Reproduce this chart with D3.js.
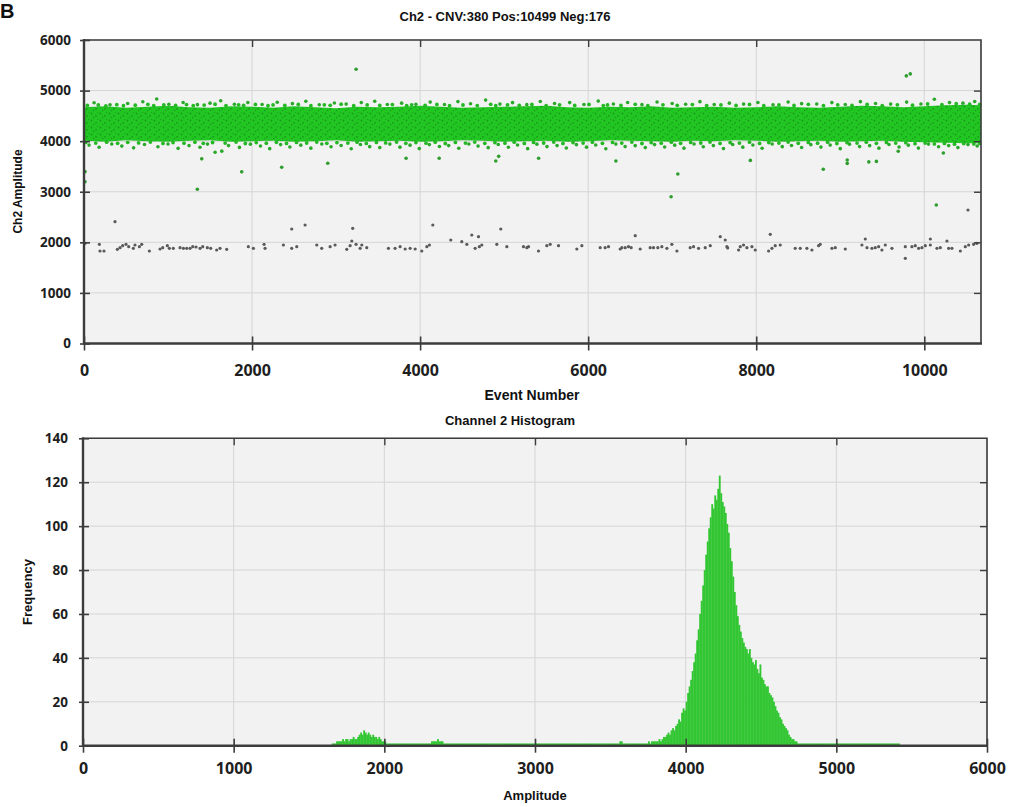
<!DOCTYPE html>
<html>
<head>
<meta charset="utf-8">
<script src="https://cdn.jsdelivr.net/npm/d3@7"></script>
<style>
  body { margin: 0; background: #fff; }
  svg { display: block; }
  .tick text { font-family: "Open Sans", "Noto Sans", sans-serif; font-weight: 700; fill: #1e1e1e; }
  .ttl { font-family: "Liberation Sans Narrow", "Liberation Sans", Arial, sans-serif; font-weight: bold; fill: #111; }
</style>
</head>
<body>
<svg id="chart" width="1014" height="807"></svg>
<script>
// ---------- Ch2 amplitude vs event number ----------
const positiveCount = 10499;
const negativeCount = 176;
const totalEvents = positiveCount + negativeCount;

const eventTicks = [0, 2000, 4000, 6000, 8000, 10000];
const amplitudeTicks = [0, 1000, 2000, 3000, 4000, 5000, 6000];

// dense positive-droplet band: solid core edges sampled along the run
const bandEvents = [0, 250, 500, 750, 1000, 1250, 1500, 1750, 2000, 2250,
  2500, 2750, 3000, 3250, 3500, 3750, 4000, 4250, 4500, 4750,
  5000, 5250, 5500, 5750, 6000, 6250, 6500, 6750, 7000, 7250,
  7500, 7750, 8000, 8250, 8500, 8750, 9000, 9250, 9500, 9750,
  10000, 10250, 10500, 10675];
const bandHigh = [4670, 4690, 4660, 4680, 4700, 4670, 4660, 4690, 4680, 4660,
  4690, 4670, 4650, 4680, 4670, 4680, 4700, 4680, 4660, 4670,
  4680, 4690, 4700, 4670, 4660, 4680, 4670, 4690, 4660, 4670,
  4680, 4660, 4670, 4690, 4670, 4660, 4680, 4700, 4690, 4670,
  4690, 4710, 4720, 4710];
const bandLow = [4010, 3990, 4020, 4000, 3990, 4010, 4020, 3990, 4000, 4010,
  3990, 4000, 4020, 3990, 4000, 4010, 3990, 4000, 4020, 4010,
  3990, 4000, 4010, 3990, 4000, 4020, 4010, 4000, 3990, 4010,
  4000, 4020, 4010, 3990, 4000, 4010, 3990, 4000, 4010, 3990,
  3980, 3970, 3960, 3960];

// droplets hugging the band edges [event, amplitude]
const edgeUpper = [[40,4705],[170,4715],[260,4698],[390,4722],[470,4702],[610,4712],[760,4728],[830,4700],[950,4718],[1090,4706],
  [1220,4724],[1300,4701],[1430,4714],[1560,4730],[1690,4703],[1840,4719],[1900,4708],[2040,4726],[2190,4700],[2250,4716],
  [2390,4705],[2550,4727],[2700,4702],[2860,4718],[2930,4709],[3060,4731],[3210,4700],[3370,4717],[3520,4706],[3670,4724],
  [3840,4703],[3900,4719],[4060,4708],[4200,4726],[4350,4702],[4510,4715],[4680,4704],[4840,4728],[4900,4702],[5040,4717],
  [5180,4707],[5330,4725],[5500,4701],[5660,4718],[5840,4706],[6010,4727],[6180,4703],[6230,4716],[6390,4705],[6560,4729],
  [6710,4701],[6890,4719],[7060,4708],[7240,4724],[7410,4703],[7580,4717],[7760,4705],[7920,4726],[8090,4702],[8270,4716],
  [8450,4707],[8620,4729],[8800,4702],[8970,4718],[9140,4706],[9320,4725],[9500,4703],[9680,4719],[9860,4712],[10040,4735],
  [10210,4722],[10380,4740],[10540,4732],[10660,4728]];
const edgeLower = [[20,3975],[140,3962],[270,3981],[400,3958],[520,3977],[650,3966],[790,3984],[940,3955],[1060,3972],[1190,3961],
  [1320,3980],[1420,3957],[1530,3974],[1680,3963],[1810,3982],[1920,3954],[2050,3973],[2170,3960],[2290,3979],[2410,3956],
  [2530,3976],[2650,3964],[2770,3983],[2890,3957],[3010,3972],[3140,3962],[3250,3980],[3360,3955],[3480,3975],[3590,3965],
  [3720,3984],[3830,3958],[3950,3973],[4070,3961],[4180,3981],[4300,3954],[4420,3976],[4540,3963],[4650,3982],[4770,3957],
  [4890,3972],[5010,3960],[5120,3980],[5240,3956],[5350,3975],[5470,3964],[5590,3983],[5700,3955],[5820,3974],[5940,3962],
  [6050,3981],[6170,3957],[6290,3976],[6400,3963],[6520,3982],[6640,3954],[6750,3973],[6870,3961],[6990,3980],[7100,3958],
  [7220,3975],[7340,3964],[7450,3983],[7570,3956],[7690,3972],[7800,3962],[7920,3981],[8040,3955],[8150,3974],[8270,3963],
  [8380,3982],[8500,3957],[8620,3976],[8730,3960],[8850,3980],[8960,3954],[9080,3973],[9200,3962],[9310,3981],[9430,3958],
  [9550,3975],[9660,3963],[9780,3970],[9890,3950],[10010,3962],[10120,3945],[10240,3955],[10360,3940],[10470,3952],[10590,3945],
  [10660,3955]];

// loose positive droplets around the band [event, amplitude]
const fringeUpper = [[120,4760],[310,4720],[520,4745],[700,4780],[865,4834],[1010,4730],[1180,4765],[1350,4722],[1500,4752],[1627,4800],
  [1790,4730],[1950,4762],[2120,4725],[2300,4770],[2480,4742],[2640,4790],[2800,4720],[2980,4755],[3120,4733],[3300,4762],
  [3460,4790],[3610,4724],[3780,4752],[3950,4731],[4120,4772],[4290,4726],[4450,4782],[4600,4741],[4780,4812],[4950,4733],
  [5100,4761],[5270,4722],[5430,4783],[5600,4744],[5780,4762],[5950,4725],[6120,4792],[6300,4734],[6470,4763],[6640,4722],
  [6820,4774],[7000,4745],[7160,4731],[7330,4781],[7500,4724],[7680,4752],[7850,4733],[8020,4764],[8200,4721],[8380,4773],
  [8540,4742],[8720,4735],[8900,4762],[9060,4726],[9240,4781],[9420,4744],[9600,4733],[9790,4772],[9960,4735],[10120,4830],
  [10300,4762],[10460,4752],[10600,4784]];
const fringeLower = [[60,3922],[180,3881],[330,3944],[450,3902],[590,3868],[720,3933],[880,3889],[1000,3945],[1120,3858],[1250,3912],
  [1380,3879],[1470,3942],[1560,3781],[1640,3803],[1720,3912],[1850,3877],[1980,3941],[2100,3903],[2210,3852],[2340,3932],
  [2450,3884],[2580,3921],[2700,3862],[2830,3943],[2940,3891],[3060,3913],[3180,3851],[3290,3934],[3400,3892],[3520,3873],
  [3640,3942],[3760,3882],[3880,3921],[3990,3853],[4110,3932],[4230,3894],[4340,3912],[4460,3861],[4580,3943],[4690,3902],
  [4810,3872],[4930,3934],[5050,3881],[5160,3923],[5280,3852],[5390,3941],[5510,3893],[5630,3912],[5740,3864],[5860,3931],
  [5980,3882],[6090,3924],[6210,3851],[6330,3942],[6440,3893],[6560,3911],[6680,3873],[6790,3932],[6910,3884],[7030,3921],
  [7140,3862],[7260,3943],[7370,3891],[7490,3912],[7610,3853],[7720,3934],[7840,3882],[7960,3923],[8070,3861],[8190,3944],
  [8310,3892],[8420,3913],[8540,3874],[8650,3931],[8770,3883],[8880,3922],[9000,3852],[9110,3941],[9230,3893],[9350,3911],
  [9460,3862],[9580,3933],[9700,3884],[9810,3921],[9930,3863],[10050,3942],[10170,3891],[10290,3912],[10400,3873],[10520,3932],
  [10630,3903]];

// isolated positive droplets away from the band
const outliersPos = [[12,3397],[12,3199],[1349,3048],[1401,3650],[1877,3393],[2353,3483],[2901,3562],[3238,5421],[3833,3662],[4227,3662],
  [4900,3608],[4935,3700],[5410,3662],[6330,3608],[6987,2902],[7067,3351],[7930,3620],[8798,3444],[9083,3628],[9083,3560],
  [9340,3590],[9430,3600],[9690,3800],[9786,5290],[9833,5330],[10143,2738],[10227,3766]];

// negative droplets [event, amplitude]
const negatives = [[12,1980],[183,1961],[190,1829],[238,1829],[369,2409],[397,1862],[429,1895],[460,1934],[500,1961],[532,1914],
  [587,1881],[607,1947],[659,1914],[687,1961],[778,1829],[905,1868],[937,1895],[992,1934],[1016,1881],[1063,1881],
  [1143,1895],[1183,1881],[1222,1881],[1262,1881],[1294,1914],[1333,1908],[1381,1881],[1413,1914],[1468,1895],[1508,1881],
  [1579,1848],[1619,1881],[1698,1862],[1956,1914],[2016,1881],[2143,1961],[2155,1881],[2373,1947],[2472,1881],[2532,1914],
  [2472,2264],[2631,2343],[2770,1947],[2829,1881],[2929,1914],[2988,1947],[3127,1862],[3167,1934],[3187,2026],[3198,2277],
  [3238,1961],[3286,1881],[3306,1947],[3365,1895],[3623,1881],[3702,1881],[3762,1914],[3822,1868],[3881,1881],[3941,1868],
  [4020,1829],[4080,1914],[4111,1947],[4151,2343],[4365,2046],[4496,2013],[4556,1961],[4615,2145],[4695,2112],[4655,1881],
  [4705,1914],[4734,1947],[4913,1961],[4960,2264],[5032,1914],[5230,1914],[5270,1895],[5409,1829],[5290,1914],[5508,1934],
  [5548,1961],[5647,1934],[5865,1868],[5925,1934],[6143,1895],[6202,1895],[6242,1914],[6381,1868],[6401,1895],[6441,1895],
  [6480,1914],[6512,1895],[6560,2132],[6619,1868],[6738,1895],[6778,1895],[6829,1895],[6877,1914],[6937,1881],[6996,1961],
  [7056,1829],[7214,1895],[7254,1914],[7314,1881],[7393,1895],[7453,1934],[7572,2112],[7631,2046],[7651,1914],[7660,1890],
  [7790,1848],[7810,1914],[7849,1947],[7889,1895],[7949,1914],[7988,1848],[8147,1829],[8167,2158],[8187,1881],[8226,1934],
  [8286,1947],[8464,1881],[8524,1881],[8603,1881],[8663,1848],[8742,1934],[8762,1961],[8901,1881],[8941,1895],[9060,1868],
  [9258,1947],[9298,2066],[9318,1895],[9377,1881],[9417,1895],[9457,1914],[9496,1848],[9536,1947],[9615,1881],[9774,1914],
  [9774,1684],[9853,1914],[9893,1934],[9933,1881],[9972,1895],[10012,1934],[10072,2066],[10072,1947],[10151,1881],[10191,1895],
  [10270,2026],[10290,1881],[10329,1881],[10429,1829],[10488,1914],[10520,2639],[10528,1947],[10587,1961],[10627,1980]];

// ---------- Channel 2 histogram (10-unit amplitude bins) ----------
const histBinWidth = 10;
const histStart = 1650;
const amplitudeHistTicks = [0, 1000, 2000, 3000, 4000, 5000, 6000];
const frequencyTicks = [0, 20, 40, 60, 80, 100, 120, 140];
// 1650 - 2090
const histNeg = [1,1,1,2,2,2,2,3,2,3, 3,2,3,3,4,3,3,4,5,6, 5,7,6,5,6,5,4,5,4,4, 3,4,3,2,2,2,1,1,1,1, 1,1,1,1,1];
// 2100 - 3790
const histRain = [
  1,1,1,1,1,1,1,1,1,1, 1,1,1,1,1,1,1,1,1,1, 1,2,2,2,2,3,2,2,2,1, 1,1,1,1,1,1,1,1,1,1,
  1,1,1,1,1,1,1,1,1,1, 1,1,1,1,1,1,1,1,1,1, 1,1,1,1,1,1,1,1,1,1, 1,1,1,1,1,1,1,1,1,1,
  1,1,1,1,1,1,1,1,1,1, 1,1,1,1,1,1,1,1,1,1, 1,1,1,1,1,1,1,1,1,1, 1,1,1,1,1,1,1,1,1,1,
  1,1,1,1,1,1,1,1,1,1, 1,1,1,1,1,1,1,1,1,1, 1,1,1,1,1,1,2,2,1,1, 1,1,1,1,1,1,1,1,1,1,
  1,1,1,1,1,2,1,2,2,2];
// 3800 - 4750
const histPos = [
  2,2,3,2,3,4,4,5,6,5, 7,8,7,9,10,12,11,15,17,16, 20,24,27,30,34,38,42,48,53,60,
  66,73,80,87,93,99,104,110,108,114, 112,117,123,115,111,109,106,101,97,90,
  84,77,70,64,59,55,52,49,47,45, 44,42,44,40,38,37,39,35,33,37, 31,30,28,27,27,24,23,22,20,18,
  16,15,13,12,10,9,8,7,5,4, 3,3,2,2,1,1];
// 4760 - 5410
const histTail = [1,1,1,1,1,1,1,1,1,1, 1,1,1,1,1,1,1,1,1,1, 1,1,1,1,1,1,1,1,1,1, 1,1,1,1,1,1,1,1,1,1,
  1,1,1,1,1,1,1,1,1,1, 1,1,1,1,1,1,1,1,1,1, 1,1,1,1,1,1];

const histCounts = histNeg.concat(histRain, histPos, histTail);

// ---------- drawing ----------
const svg = d3.select("#chart");
svg.append("rect").attr("width", 1014).attr("height", 807).attr("fill", "#fff");

const defs = svg.append("defs");
const pat = defs.append("pattern").attr("id", "speckle").attr("width", 9).attr("height", 7)
  .attr("patternUnits", "userSpaceOnUse");
pat.append("rect").attr("width", 9).attr("height", 7).attr("fill", "#22c622");
[[1.5, 1.5, 0.9], [6, 3.8, 0.9], [3.6, 5.6, 0.75], [7.8, 0.6, 0.6]].forEach(([cx, cy, r]) =>
  pat.append("circle").attr("cx", cx).attr("cy", cy).attr("r", r).attr("fill", "#179a19"));

const GRID = "#d5d5d5", BG = "#f2f2f2", FRAME = "#3c3c3c";

function panel(box, xs, ys, xTicks, yTicks) {
  const g = svg.append("g");
  g.append("rect").attr("x", box.left).attr("y", box.top)
    .attr("width", box.right - box.left).attr("height", box.bottom - box.top).attr("fill", BG);
  g.selectAll(".gx").data(xTicks.slice(1)).join("line")
    .attr("x1", d => xs(d)).attr("x2", d => xs(d)).attr("y1", box.top).attr("y2", box.bottom)
    .attr("stroke", GRID).attr("stroke-width", 1);
  g.selectAll(".gy").data(yTicks.slice(1)).join("line")
    .attr("y1", d => ys(d)).attr("y2", d => ys(d)).attr("x1", box.left).attr("x2", box.right)
    .attr("stroke", GRID).attr("stroke-width", 1);
  return g;
}

function frame(box, xs, ys, xTicks, yTicks, opt) {
  const g = svg.append("g");
  // bottom axis with crossing ticks
  const bx = g.append("g").attr("transform", `translate(0,${box.bottom})`)
    .call(d3.axisBottom(xs).tickValues(xTicks).tickSize(7).tickPadding(opt.xPad).tickFormat(d3.format("d")));
  bx.select(".domain").remove();
  bx.selectAll(".tick line").attr("y1", -7).attr("stroke", FRAME).attr("stroke-width", 1.6);
  bx.selectAll(".tick text").style("font-size", opt.xFont + "px");
  // left axis
  const ly = g.append("g").attr("transform", `translate(${box.left},0)`)
    .call(d3.axisLeft(ys).tickValues(yTicks).tickSize(5).tickPadding(opt.yPad).tickFormat(d3.format("d")));
  ly.select(".domain").remove();
  ly.selectAll(".tick line").attr("x1", 6).attr("x2", -4).attr("stroke", FRAME).attr("stroke-width", 1.6);
  ly.selectAll(".tick text").style("font-size", opt.yFont + "px");
  // inward ticks on the top and right edges
  const ty = g.append("g").attr("transform", `translate(0,${box.top})`)
    .call(d3.axisTop(xs).tickValues(xTicks.slice(1, -1)).tickSize(-7).tickFormat(""));
  ty.select(".domain").remove();
  ty.selectAll(".tick line").attr("stroke", FRAME).attr("stroke-width", 1.4);
  const ry = g.append("g").attr("transform", `translate(${box.right},0)`)
    .call(d3.axisRight(ys).tickValues(yTicks.slice(1, -1)).tickSize(-7).tickFormat(""));
  ry.select(".domain").remove();
  ry.selectAll(".tick line").attr("stroke", FRAME).attr("stroke-width", 1.4);
  // frame
  g.append("path").attr("fill", "none").attr("stroke", FRAME).attr("stroke-width", 1.6)
    .attr("d", `M${box.left},${box.top}H${box.right}V${box.bottom}`);
  g.append("path").attr("fill", "none").attr("stroke", FRAME).attr("stroke-width", 2.4)
    .attr("d", `M${box.left},${box.top - 1}V${box.bottom}H${box.right + 1}`);
}

// ---- scatter panel ----
const sBox = { left: 84, right: 981, top: 40, bottom: 343.5 };
const sx = d3.scaleLinear().domain([0, totalEvents]).range([sBox.left, sBox.right]);
const sy = d3.scaleLinear().domain([0, 6000]).range([sBox.bottom, sBox.top]);
panel(sBox, sx, sy, eventTicks.concat([totalEvents]), amplitudeTicks);

const plot = svg.append("g");
const band = bandEvents.map((e, i) => ({ e, hi: bandHigh[i], lo: bandLow[i] }));
plot.append("path").datum(band)
  .attr("d", d3.area().x(d => sx(d.e)).y0(d => sy(d.lo)).y1(d => sy(d.hi)).curve(d3.curveLinear))
  .attr("fill", "url(#speckle)");
plot.selectAll(".ed").data(edgeUpper.concat(edgeLower)).join("circle")
  .attr("cx", d => sx(d[0])).attr("cy", d => sy(d[1])).attr("r", 1.9).attr("fill", "#25b825");
plot.selectAll(".fr").data(fringeUpper.concat(fringeLower)).join("circle")
  .attr("cx", d => sx(d[0])).attr("cy", d => sy(d[1])).attr("r", 1.8).attr("fill", "#2aa82a");
plot.selectAll(".op").data(outliersPos).join("circle")
  .attr("cx", d => sx(d[0])).attr("cy", d => sy(d[1])).attr("r", 1.8).attr("fill", "#2f9e2f");
plot.selectAll(".ng").data(negatives).join("circle")
  .attr("cx", d => sx(d[0])).attr("cy", d => sy(d[1])).attr("r", 1.6).attr("fill", "#5a5a5a");

frame(sBox, sx, sy, eventTicks, amplitudeTicks, { xPad: 14, xFont: 16, yPad: 8, yFont: 13.5 });
svg.append("text").attr("class", "ttl").attr("x", 505).attr("y", 21).attr("text-anchor", "middle")
  .style("font-size", "13px").text("Ch2 - CNV:380 Pos:10499 Neg:176");
svg.append("text").attr("class", "ttl").attr("x", 532).attr("y", 400).attr("text-anchor", "middle")
  .style("font-size", "14px").text("Event Number");
svg.append("text").attr("class", "ttl").attr("transform", "translate(22,191.5) rotate(-90)")
  .attr("text-anchor", "middle").style("font-size", "12px").text("Ch2 Amplitude");

// ---- histogram panel ----
const hBox = { left: 83, right: 987, top: 438.3, bottom: 745.7 };
const hx = d3.scaleLinear().domain([0, 6000]).range([hBox.left, hBox.right]);
const hy = d3.scaleLinear().domain([0, 140]).range([hBox.bottom, hBox.top]);
panel(hBox, hx, hy, amplitudeHistTicks, frequencyTicks);

const bins = histCounts.map((c, i) => ({ x0: histStart + i * histBinWidth, c }));
const bw = hx(histBinWidth) - hx(0);
svg.append("g").selectAll("rect").data(bins).join("rect")
  .attr("x", d => hx(d.x0)).attr("width", bw + 0.35)
  .attr("y", d => hy(d.c)).attr("height", d => hy(0) - hy(d.c))
  .attr("fill", "#33c633");

frame(hBox, hx, hy, amplitudeHistTicks, frequencyTicks, { xPad: 10, xFont: 16, yPad: 10, yFont: 13.5 });
svg.append("text").attr("class", "ttl").attr("x", 510).attr("y", 425).attr("text-anchor", "middle")
  .style("font-size", "13px").text("Channel 2 Histogram");
svg.append("text").attr("class", "ttl").attr("x", 535).attr("y", 800).attr("text-anchor", "middle")
  .style("font-size", "13px").text("Amplitude");
svg.append("text").attr("class", "ttl").attr("transform", "translate(32,592) rotate(-90)")
  .attr("text-anchor", "middle").style("font-size", "13px").text("Frequency");

// panel letter
svg.append("text").attr("class", "ttl").attr("x", 0).attr("y", 18)
  .style("font-size", "20px").text("B");
</script>
</body>
</html>
